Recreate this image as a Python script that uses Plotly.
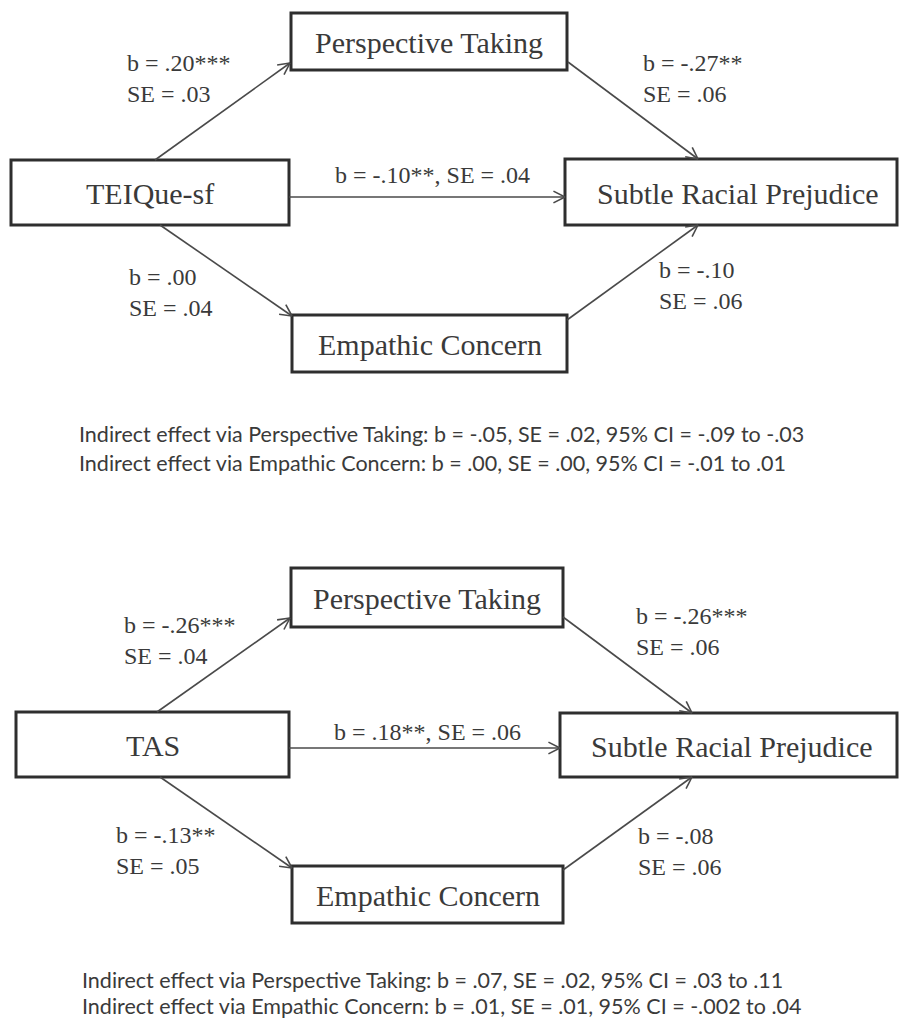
import math
import plotly.graph_objects as go

# ---- content -------------------------------------------------------------
predictors = ["TEIQue-sf", "TAS"]
mediators = ["Perspective Taking", "Empathic Concern"]
outcome = "Subtle Racial Prejudice"

# path order: X->PT, PT->Y, X->Y (direct), X->EC, EC->Y
paths_b = [
    [".20***", "-.27**", "-.10**", ".00", "-.10"],
    ["-.26***", "-.26***", ".18**", "-.13**", "-.08"],
]
paths_se = [
    [".03", ".06", ".04", ".04", ".06"],
    [".04", ".06", ".06", ".05", ".06"],
]
indirect_lines = [
    ["Indirect effect via Perspective Taking: b = -.05, SE = .02, 95% CI = -.09 to -.03",
     "Indirect effect via Empathic Concern: b = .00, SE = .00, 95% CI = -.01 to .01"],
    ["Indirect effect via Perspective Taking: b = .07, SE = .02, 95% CI = .03 to .11",
     "Indirect effect via Empathic Concern: b = .01, SE = .01, 95% CI = -.002 to .04"],
]

# ---- geometry (pixel canvas) ---------------------------------------------
W, H = 899, 1023
SERIF = "Liberation Serif, Times New Roman, serif"
SANS = "Lato, Open Sans, sans-serif"
BOX_COLOR = "#2e2e2e"
LINE_COLOR = "#4a4a4a"
TEXT_COLOR = "#3a3a3a"

panels = [
    dict(
        boxes=dict(X=(11, 160, 289, 225), PT=(291, 13, 567, 70),
                   EC=(292, 315, 567, 372), Y=(565, 159, 897, 225)),
        text_x=dict(X=150, PT=429, EC=430, Y=738),
        arrows=[(155, 160, 290, 63), (568, 62, 698, 159), (289, 197, 565, 197),
                (160, 225, 292, 316), (567, 320, 698, 225)],
        labels=[(125, 78, False), (641, 78, False), (333, 175, True),
                (127, 292, False), (657, 285, False)],
        indirect=(77, 434, 463),
    ),
    dict(
        boxes=dict(X=(16, 712, 289, 777), PT=(291, 568, 563, 627),
                   EC=(292, 866, 563, 923), Y=(560, 713, 897, 777)),
        text_x=dict(X=153, PT=427, EC=428, Y=732),
        arrows=[(157, 712, 290, 618), (563, 617, 692, 713), (289, 748, 560, 748),
                (160, 777, 292, 868), (563, 870, 692, 777)],
        labels=[(122, 640, False), (634, 631, False), (332, 732, True),
                (114, 850, False), (636, 851, False)],
        indirect=(80, 980, 1006),
    ),
]

fig = go.Figure()
shapes, annotations = [], []


def arrow(x0, y0, x1, y1, head=13, spread=math.radians(27)):
    shapes.append(dict(type="line", x0=x0, y0=y0, x1=x1, y1=y1,
                       line=dict(color=LINE_COLOR, width=1.6)))
    ang = math.atan2(y1 - y0, x1 - x0)
    for s in (-spread, spread):
        a = ang + math.pi + s
        shapes.append(dict(type="line", x0=x1, y0=y1,
                           x1=x1 + head * math.cos(a), y1=y1 + head * math.sin(a),
                           line=dict(color=LINE_COLOR, width=1.6)))


for p, panel in enumerate(panels):
    names = dict(X=predictors[p], PT=mediators[0], EC=mediators[1], Y=outcome)
    for key, (x0, y0, x1, y1) in panel["boxes"].items():
        shapes.append(dict(type="rect", x0=x0, y0=y0, x1=x1, y1=y1,
                           line=dict(color=BOX_COLOR, width=3), fillcolor="white"))
        annotations.append(dict(x=panel["text_x"][key], y=(y0 + y1) / 2 + 1,
                                text=names[key], showarrow=False,
                                xanchor="center", yanchor="middle",
                                font=dict(family=SERIF, size=30, color=TEXT_COLOR)))
    for (x0, y0, x1, y1) in panel["arrows"]:
        arrow(x0, y0, x1, y1)
    for i, (lx, ly, inline) in enumerate(panel["labels"]):
        b, se = paths_b[p][i], paths_se[p][i]
        txt = f"b = {b}, SE = {se}" if inline else f"b = {b}<br>SE = {se}"
        annotations.append(dict(x=lx, y=ly, text=txt, showarrow=False,
                                xanchor="left", yanchor="middle", align="left",
                                font=dict(family=SERIF, size=24, color=TEXT_COLOR)))
    ix, iy1, iy2 = panel["indirect"]
    for line_txt, yy in zip(indirect_lines[p], (iy1, iy2)):
        annotations.append(dict(x=ix, y=yy, text=line_txt, showarrow=False,
                                xanchor="left", yanchor="middle",
                                font=dict(family=SANS, size=21.5, color=TEXT_COLOR)))

fig.update_layout(
    width=W, height=H,
    margin=dict(l=0, r=0, t=0, b=0),
    paper_bgcolor="white", plot_bgcolor="white",
    xaxis=dict(range=[0, W], visible=False, fixedrange=True),
    yaxis=dict(range=[H, 0], visible=False, fixedrange=True),
    shapes=shapes, annotations=annotations, showlegend=False,
)

fig.write_html("out.html")
